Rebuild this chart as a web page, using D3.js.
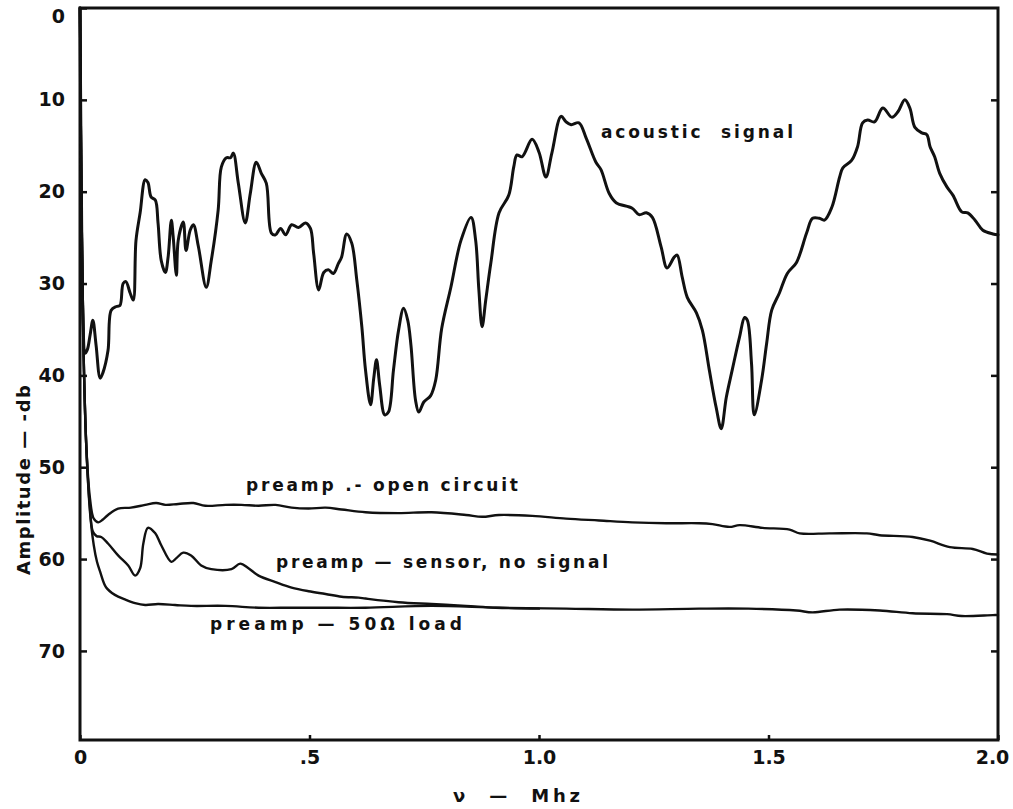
<!DOCTYPE html>
<html>
<head>
<meta charset="utf-8">
<script src="https://cdn.jsdelivr.net/npm/d3@7"></script>
<style>
  html, body { margin: 0; padding: 0; background: #fff; }
  svg { display: block; }
  text { font-family: "DejaVu Sans", sans-serif; fill: #111; }
</style>
</head>
<body>
<svg id="chart" width="1013" height="809"></svg>
<script>
// Axis ticks
const yTicks = [0, 10, 20, 30, 40, 50, 60, 70];
const xTicks = [0, 0.5, 1.0, 1.5, 2.0];
const xTickLabels = ["0", ".5", "1.0", "1.5", "2.0"];

// Spectra: [frequency (MHz), amplitude (-db)]
const acousticSignal = [
  [0,0],[0.003,20],[0.007,35],[0.011,37.6],[0.016,37.2],[0.022,35.6],[0.028,34.0],[0.035,36.7],
  [0.044,40.3],[0.050,39.7],[0.061,37.3],[0.068,32.9],[0.079,32.5],[0.087,32.4],[0.094,30.0],
  [0.100,29.8],[0.109,31.0],[0.116,31.8],[0.122,25.3],[0.131,22.3],[0.142,18.7],[0.148,19.0],
  [0.155,20.6],[0.164,20.9],[0.170,23.4],[0.177,27.5],[0.186,28.8],[0.192,27.1],[0.199,23.1],
  [0.203,24.9],[0.210,29.1],[0.214,25.3],[0.225,23.3],[0.231,26.4],[0.240,24.2],[0.247,23.6],
  [0.258,26.0],[0.275,30.4],[0.286,27.5],[0.301,22.0],[0.308,17.3],[0.319,16.3],[0.328,16.3],
  [0.334,15.8],[0.345,19.1],[0.360,23.4],[0.371,20.2],[0.384,16.8],[0.395,18.0],[0.406,19.1],
  [0.417,24.5],[0.426,24.7],[0.437,24.0],[0.448,24.7],[0.461,23.6],[0.476,23.9],[0.491,23.4],
  [0.502,24.0],[0.509,26.7],[0.520,30.7],[0.531,28.8],[0.541,28.5],[0.552,28.9],[0.563,27.8],
  [0.570,27.1],[0.581,24.6],[0.592,25.6],[0.603,29.6],[0.614,34.7],[0.622,39.4],[0.633,43.2],
  [0.640,40.3],[0.646,38.3],[0.653,41.1],[0.664,44.3],[0.672,44.0],[0.683,39.4],[0.694,35.1],
  [0.705,32.7],[0.714,34.0],[0.721,36.7],[0.731,42.7],[0.738,44.0],[0.749,42.9],[0.764,42.2],
  [0.775,40.5],[0.788,34.9],[0.808,30.4],[0.830,25.3],[0.852,22.8],[0.862,25.3],[0.869,30.7],
  [0.876,34.7],[0.884,31.8],[0.895,27.8],[0.913,22.3],[0.934,20.4],[0.945,17.3],[0.952,16.0],
  [0.963,16.2],[0.985,14.3],[1.000,15.7],[1.015,18.4],[1.028,15.8],[1.048,11.8],[1.059,12.4],
  [1.070,12.7],[1.087,12.5],[1.103,14.2],[1.124,16.8],[1.135,17.6],[1.153,20.2],[1.168,21.2],
  [1.203,21.8],[1.218,22.5],[1.234,22.3],[1.247,22.8],[1.266,26.0],[1.279,28.3],[1.295,27.1],
  [1.301,26.9],[1.312,29.3],[1.323,31.5],[1.343,33.2],[1.356,35.1],[1.371,39.4],[1.386,43.5],
  [1.397,45.8],[1.408,42.4],[1.421,39.4],[1.437,35.8],[1.448,33.7],[1.454,34.0],[1.463,38.7],
  [1.469,44.3],[1.485,40.5],[1.496,36.5],[1.507,32.9],[1.524,31.0],[1.541,28.9],[1.561,27.7],
  [1.583,24.5],[1.596,22.9],[1.611,22.9],[1.622,23.1],[1.638,21.7],[1.655,18.4],[1.662,17.4],
  [1.681,16.6],[1.694,15.1],[1.705,12.5],[1.716,12.2],[1.731,12.4],[1.749,10.9],[1.769,11.9],
  [1.782,11.3],[1.797,10.0],[1.808,10.9],[1.819,13.0],[1.834,13.6],[1.845,13.8],[1.852,15.1],
  [1.862,16.2],[1.873,18.0],[1.889,19.5],[1.902,20.4],[1.921,22.2],[1.934,22.3],[1.950,23.1],
  [1.967,24.2],[1.989,24.6],[2.0,24.7]
];

const openCircuit = [
  [0,0],[0.003,20],[0.008,38],[0.014,48],[0.022,53.5],[0.030,55.6],[0.040,56.0],[0.050,55.7],
  [0.061,55.2],[0.083,54.5],[0.111,54.4],[0.142,54.1],[0.166,53.9],[0.186,54.1],[0.214,54.0],
  [0.247,53.9],[0.273,54.2],[0.317,54.1],[0.352,54.1],[0.389,54.2],[0.426,54.1],[0.461,54.4],
  [0.498,54.5],[0.535,54.4],[0.570,54.6],[0.622,54.9],[0.694,55.0],[0.766,54.9],[0.841,55.2],
  [0.876,55.4],[0.913,55.2],[0.985,55.3],[1.059,55.6],[1.131,55.8],[1.203,56.0],[1.277,56.1],
  [1.349,56.1],[1.378,56.2],[1.415,56.5],[1.437,56.3],[1.487,56.6],[1.546,56.8],[1.568,57.2],
  [1.633,57.2],[1.714,57.2],[1.742,57.4],[1.814,57.6],[1.852,58.0],[1.895,58.7],[1.945,58.9],
  [1.976,59.4],[2.0,59.5]
];

const sensorNoSignal = [
  [0,0],[0.003,20],[0.008,38],[0.014,48],[0.021,54],[0.028,57.0],[0.036,57.5],[0.046,57.6],
  [0.061,58.3],[0.083,59.6],[0.105,60.7],[0.120,61.8],[0.131,61.0],[0.138,58.3],[0.148,56.6],
  [0.164,57.2],[0.177,58.5],[0.199,60.3],[0.210,59.9],[0.225,59.3],[0.242,59.6],[0.264,60.7],
  [0.286,61.1],[0.330,61.1],[0.349,60.5],[0.367,61.0],[0.389,61.8],[0.426,62.5],[0.461,63.1],
  [0.498,63.5],[0.535,63.8],[0.570,64.1],[0.607,64.2],[0.622,64.3],[0.694,64.7],[0.766,64.9],
  [0.841,65.1],[0.906,65.3],[1.0,65.4]
];

const load50 = [
  [0,0],[0.003,20],[0.008,38],[0.014,48],[0.022,55],[0.030,58.5],[0.037,60.3],[0.044,61.4],
  [0.057,63.1],[0.076,63.9],[0.098,64.4],[0.120,64.8],[0.142,65.0],[0.170,64.9],[0.207,65.0],
  [0.242,65.1],[0.317,65.1],[0.389,65.3],[0.461,65.3],[0.535,65.3],[0.622,65.3],[0.766,65.1],
  [0.913,65.3],[1.059,65.4],[1.203,65.5],[1.349,65.4],[1.456,65.4],[1.561,65.6],[1.596,65.8],
  [1.655,65.5],[1.742,65.6],[1.814,65.9],[1.889,66.0],[1.921,66.2],[1.989,66.1],[2.0,66.1]
];

// Curve annotations: text, left x (px), baseline y (px), width (px)
const annotations = [
  { text: "acoustic  signal", x: 601, y: 138, w: 192 },
  { text: "preamp .- open circuit", x: 246, y: 491, w: 272 },
  { text: "preamp \u2014 sensor, no signal", x: 276, y: 568, w: 332 },
  { text: "preamp \u2014 50\u03A9 load", x: 210, y: 630, w: 252 }
];

const plot = { left: 80, right: 998, top: 8, bottom: 740 };

const svg = d3.select("#chart");

const x = d3.scaleLinear().domain([0, 2]).range([plot.left, plot.right]);
const y = d3.scaleLinear().domain([0, 79.7]).range([plot.top, plot.bottom]);

// Frame
svg.append("rect")
  .attr("x", plot.left).attr("y", plot.top)
  .attr("width", plot.right - plot.left).attr("height", plot.bottom - plot.top)
  .attr("fill", "none").attr("stroke", "#111").attr("stroke-width", 3);

// Left axis: inward ticks, labels outside
const leftAxis = svg.append("g")
  .attr("transform", `translate(${plot.left},0)`)
  .call(d3.axisLeft(y).tickValues(yTicks).tickSizeInner(-7).tickSizeOuter(0).tickPadding(15)
    .tickFormat(d3.format("d")));
leftAxis.select(".domain").remove();
leftAxis.selectAll(".tick line").attr("stroke", "#111").attr("stroke-width", 2.5);
leftAxis.selectAll(".tick text")
  .style("font-size", "19px").style("font-family", "DejaVu Sans").style("font-weight", "bold")
  .attr("fill", "#111")
  .attr("dy", d => d === 0 ? "0.75em" : "0.32em");

// Right axis: inward ticks only
const rightAxis = svg.append("g")
  .attr("transform", `translate(${plot.right},0)`)
  .call(d3.axisRight(y).tickValues(yTicks.slice(1)).tickSizeInner(-7).tickSizeOuter(0).tickFormat(""));
rightAxis.select(".domain").remove();
rightAxis.selectAll(".tick line").attr("stroke", "#111").attr("stroke-width", 2.5);

// Bottom axis
const bottomAxis = svg.append("g")
  .attr("transform", `translate(0,${plot.bottom})`)
  .call(d3.axisBottom(x).tickValues(xTicks).tickSizeInner(-5).tickSizeOuter(0).tickPadding(11)
    .tickFormat((d, i) => xTickLabels[i]));
bottomAxis.select(".domain").remove();
bottomAxis.selectAll(".tick line").attr("stroke", "#111").attr("stroke-width", 2.5);
bottomAxis.selectAll(".tick text")
  .style("font-size", "19px").style("font-family", "DejaVu Sans").style("font-weight", "bold")
  .attr("fill", "#111")
  .attr("dx", d => d === 2 ? -6 : 0);

// Spectrum lines
const line = d3.line()
  .x(d => x(d[0]))
  .y(d => y(d[1]))
  .curve(d3.curveCatmullRom.alpha(0.5));

const series = [
  { data: acousticSignal, width: 3 },
  { data: openCircuit, width: 2.4 },
  { data: sensorNoSignal, width: 2.4 },
  { data: load50, width: 2.4 }
];

svg.append("g").selectAll("path")
  .data(series)
  .join("path")
  .attr("d", d => line(d.data))
  .attr("fill", "none")
  .attr("stroke", "#111")
  .attr("stroke-width", d => d.width)
  .attr("stroke-linejoin", "round")
  .attr("stroke-linecap", "round");

// Curve labels
svg.append("g").selectAll("text")
  .data(annotations)
  .join("text")
  .attr("x", d => d.x)
  .attr("y", d => d.y)
  .attr("textLength", d => d.w)
  .attr("lengthAdjust", "spacing")
  .style("font-size", "17px")
  .style("font-weight", "bold")
  .style("white-space", "pre")
  .text(d => d.text);

// Axis titles
svg.append("text")
  .attr("transform", `translate(30,480) rotate(-90)`)
  .attr("text-anchor", "middle")
  .attr("textLength", 190)
  .attr("lengthAdjust", "spacing")
  .style("font-size", "18px")
  .style("font-weight", "bold")
  .style("white-space", "pre")
  .text("Amplitude \u2014 -db");

svg.append("text")
  .attr("x", 453)
  .attr("y", 802)
  .attr("textLength", 127)
  .attr("lengthAdjust", "spacing")
  .style("font-size", "18px")
  .style("font-weight", "bold")
  .style("white-space", "pre")
  .text("\u03BD  \u2014  Mhz");
</script>
</body>
</html>
